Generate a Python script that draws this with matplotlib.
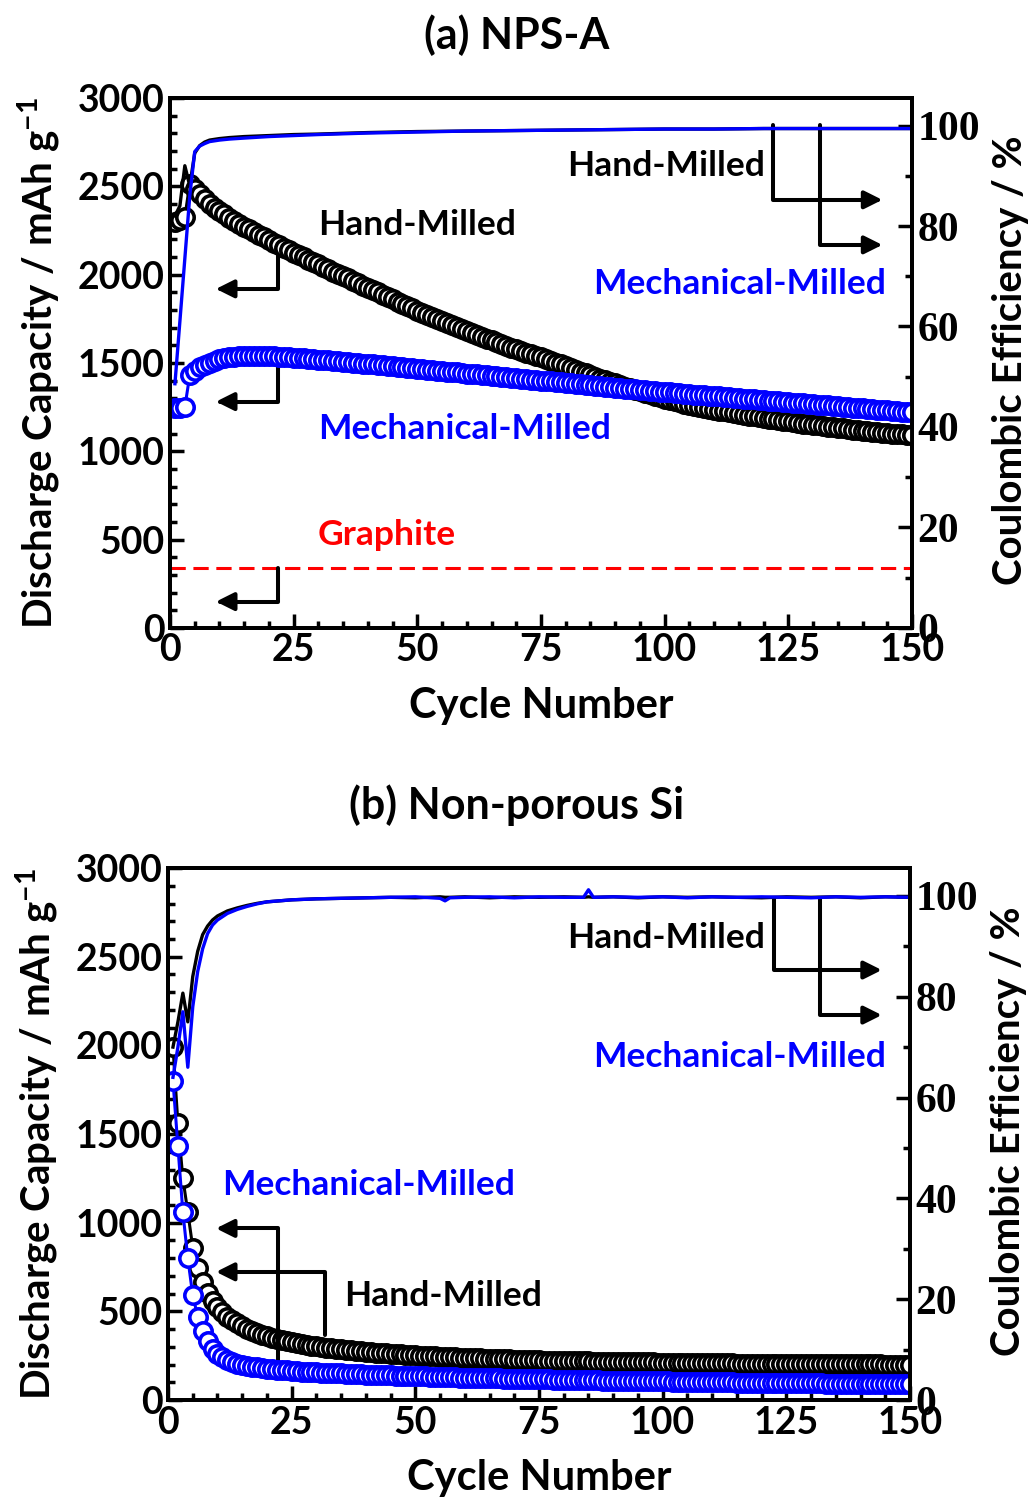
import matplotlib
matplotlib.use("Agg")
import matplotlib.pyplot as plt
from matplotlib.ticker import MultipleLocator

plt.rcParams['font.family'] = ['Lato', 'DejaVu Sans']
plt.rcParams['font.weight'] = 'bold'
plt.rcParams['mathtext.fontset'] = 'custom'
plt.rcParams['mathtext.rm'] = 'Lato:bold'
plt.rcParams['mathtext.default'] = 'rm'

cycles = list(range(1, 151))

# (a) NPS-A, discharge capacity (mAh/g)
npsa_hand = [2300, 2310, 2325, 2515, 2485, 2455, 2425, 2400, 2378, 2358,
             2340, 2322, 2305, 2288, 2272, 2256, 2240, 2225, 2210, 2195,
             2180, 2166, 2152, 2138, 2124, 2110, 2097, 2084, 2070, 2057,
             2044, 2030, 2017, 2004, 1991, 1978, 1964, 1951, 1938, 1925,
             1912, 1899, 1886, 1873, 1860, 1847, 1834, 1821, 1808, 1795,
             1783, 1771, 1759, 1747, 1735, 1724, 1713, 1702, 1691, 1680,
             1669, 1658, 1647, 1637, 1627, 1617, 1607, 1597, 1587, 1577,
             1567, 1558, 1549, 1540, 1531, 1521, 1511, 1501, 1491, 1481,
             1471, 1461, 1451, 1441, 1431, 1421, 1411, 1402, 1393, 1384,
             1375, 1366, 1357, 1348, 1339, 1330, 1322, 1314, 1306, 1298,
             1291, 1284, 1277, 1270, 1264, 1258, 1252, 1246, 1240, 1235,
             1230, 1225, 1220, 1215, 1210, 1205, 1201, 1197, 1193, 1189,
             1185, 1181, 1177, 1173, 1169, 1165, 1161, 1157, 1153, 1150,
             1146, 1143, 1139, 1136, 1132, 1129, 1126, 1123, 1120, 1117,
             1114, 1111, 1108, 1105, 1103, 1100, 1098, 1095, 1093, 1090]
npsa_mech = [1245, 1245, 1250, 1430, 1455, 1475, 1490, 1502, 1512, 1520,
             1526, 1531, 1535, 1538, 1540, 1541, 1541, 1541, 1540, 1539,
             1538, 1536, 1534, 1532, 1530, 1528, 1526, 1524, 1521, 1519,
             1516, 1514, 1511, 1509, 1506, 1504, 1501, 1499, 1496, 1494,
             1491, 1488, 1486, 1483, 1480, 1478, 1475, 1472, 1470, 1467,
             1464, 1462, 1459, 1456, 1454, 1451, 1448, 1446, 1443, 1440,
             1438, 1435, 1432, 1430, 1427, 1424, 1422, 1419, 1416, 1414,
             1411, 1408, 1406, 1403, 1400, 1398, 1395, 1392, 1390, 1387,
             1384, 1382, 1379, 1376, 1374, 1371, 1368, 1366, 1363, 1360,
             1358, 1355, 1352, 1350, 1347, 1345, 1342, 1340, 1338, 1335,
             1333, 1331, 1328, 1326, 1324, 1321, 1319, 1317, 1315, 1312,
             1310, 1308, 1305, 1303, 1301, 1298, 1296, 1294, 1291, 1289,
             1287, 1284, 1282, 1280, 1277, 1275, 1273, 1271, 1268, 1266,
             1264, 1261, 1259, 1257, 1254, 1252, 1250, 1247, 1245, 1243,
             1240, 1238, 1236, 1233, 1231, 1229, 1226, 1224, 1222, 1220]
graphite_cap = 340

# (a) coulombic efficiency (%)
ce_a_cyc = [1, 2, 3, 4, 5, 6, 7, 8, 10, 12, 15, 20, 25, 30, 40, 50, 60,
            70, 80, 90, 100, 110, 120, 130, 140, 150]
ce_a_hand = [82, 84, 92, 88, 94.5, 96.0, 96.7, 97.1, 97.4, 97.6, 97.8, 98.0,
             98.2, 98.3, 98.6, 98.8, 98.9, 99.0, 99.1, 99.2, 99.3, 99.3,
             99.4, 99.4, 99.4, 99.4]
ce_a_mech = [48.6, 61, 73.5, 86, 94.8, 95.9, 96.4, 96.8, 97.1, 97.3, 97.5,
             97.8, 98.0, 98.2, 98.5, 98.7, 98.9, 99.0, 99.1, 99.2, 99.3,
             99.3, 99.4, 99.4, 99.4, 99.4]

# (b) Non-porous Si, discharge capacity (mAh/g)
si_hand = [1990, 1560, 1250, 1060, 860, 745, 665, 605, 560, 525,
           495, 470, 450, 432, 416, 402, 390, 379, 369, 360,
           352, 345, 338, 332, 326, 321, 316, 311, 307, 303,
           299, 295, 292, 289, 286, 283, 280, 277, 275, 272,
           270, 268, 266, 264, 262, 260, 258, 256, 254, 252,
           251, 249, 248, 246, 245, 244, 242, 241, 240, 239,
           237, 236, 235, 234, 233, 232, 231, 230, 229, 228,
           227, 226, 226, 225, 224, 223, 223, 222, 221, 221,
           220, 219, 219, 218, 218, 217, 217, 216, 216, 215,
           215, 214, 214, 213, 213, 212, 212, 212, 211, 211,
           211, 210, 210, 210, 209, 209, 209, 208, 208, 208,
           207, 207, 207, 207, 206, 206, 206, 206, 205, 205,
           205, 205, 205, 204, 204, 204, 204, 204, 203, 203,
           203, 203, 203, 202, 202, 202, 202, 202, 202, 201,
           201, 201, 201, 201, 200, 200, 200, 200, 200, 200]
si_mech = [1800, 1430, 1060, 800, 590, 470, 390, 335, 290, 262,
           242, 227, 215, 206, 199, 193, 188, 184, 180, 177,
           174, 171, 169, 167, 165, 163, 161, 159, 158, 156,
           155, 153, 152, 151, 150, 148, 147, 146, 145, 144,
           143, 142, 141, 140, 139, 138, 137, 136, 135, 134,
           133, 133, 132, 131, 130, 129, 129, 128, 127, 126,
           126, 125, 124, 124, 123, 122, 122, 121, 120, 120,
           119, 119, 118, 117, 117, 116, 116, 115, 115, 114,
           114, 113, 113, 112, 112, 111, 111, 110, 110, 109,
           109, 108, 108, 108, 107, 107, 106, 106, 105, 105,
           105, 104, 104, 103, 103, 103, 102, 102, 101, 101,
           101, 100, 100, 100, 99, 99, 99, 98, 98, 98,
           97, 97, 97, 96, 96, 96, 95, 95, 95, 94,
           94, 94, 93, 93, 93, 92, 92, 92, 91, 91,
           91, 90, 90, 90, 89, 89, 89, 88, 88, 88]

# (b) coulombic efficiency (%)
ce_b_cyc = [1, 2, 3, 4, 5, 6, 7, 8, 9, 10, 12, 14, 16, 18, 20, 25, 30, 35,
            40, 45, 50, 55, 56, 57, 60, 65, 70, 75, 80, 84, 85, 86, 90, 95,
            100, 105, 110, 115, 120, 125, 130, 135, 140, 145, 150]
ce_b_hand = [70, 75, 80.7, 75, 84, 89, 92.3, 94, 95.2, 96, 97, 97.6, 98.1,
             98.5, 98.8, 99.2, 99.4, 99.5, 99.6, 99.7, 99.6, 99.8, 99.7,
             99.7, 99.8, 99.6, 99.8, 99.7, 99.8, 99.7, 99.8, 99.7, 99.8,
             99.6, 99.8, 99.7, 99.8, 99.7, 99.6, 99.8, 99.7, 99.8, 99.6,
             99.8, 99.7]
ce_b_mech = [64, 70, 77, 66, 78, 85, 89.5, 92.5, 94.2, 95.2, 96.5, 97.3,
             97.9, 98.4, 98.8, 99.2, 99.4, 99.5, 99.6, 99.7, 99.8, 99.5,
             99.0, 99.6, 99.7, 99.8, 99.6, 99.8, 99.7, 99.7, 101.2, 99.7,
             99.8, 99.7, 99.8, 99.6, 99.8, 99.7, 99.8, 99.7, 99.6, 99.8,
             99.7, 99.8, 99.7]

BLUE = '#0000ff'
RED = '#ff0000'
SANS = ['Lato', 'DejaVu Sans']
SERIF = ['Liberation Serif', 'DejaVu Serif']
NOTE = 25.5


def style_axes(ax, ax2):
    for a in (ax, ax2):
        for s in a.spines.values():
            s.set_linewidth(2.8)
    ax.set_xlim(0, 150)
    ax.set_ylim(0, 3000)
    ax2.set_ylim(0, 105.5)
    ax.xaxis.set_major_locator(MultipleLocator(25))
    ax.xaxis.set_minor_locator(MultipleLocator(5))
    ax.yaxis.set_major_locator(MultipleLocator(500))
    ax.yaxis.set_minor_locator(MultipleLocator(100))
    ax2.yaxis.set_major_locator(MultipleLocator(20))
    ax2.yaxis.set_minor_locator(MultipleLocator(10))
    ax.tick_params(which='both', direction='in', width=2.5, top=False,
                   right=False, labelsize=27, pad=4)
    ax.tick_params(which='major', length=10)
    ax.tick_params(which='minor', length=5)
    ax2.tick_params(which='both', direction='in', width=2.5, labelsize=30, pad=4)
    ax2.tick_params(which='major', length=10)
    ax2.tick_params(which='minor', length=5)
    for lab in ax.get_xticklabels() + ax.get_yticklabels():
        lab.set_fontweight('bold')
        lab.set_family(SANS)
    for lab in ax2.get_yticklabels():
        lab.set_fontweight('bold')
        lab.set_family(SERIF)
    ax.text(-0.176, 0.5, 'Discharge Capacity / mAh g$^{-1}$', transform=ax.transAxes,
            rotation=90, ha='center', va='center', fontsize=29, fontweight='bold')
    ax2.text(1.133, 0.505, 'Coulombic Efficiency / %', transform=ax2.transAxes,
             rotation=90, ha='center', va='center', fontsize=29, fontweight='bold')
    ax.text(0.5, -0.147, 'Cycle Number', transform=ax.transAxes,
            ha='center', va='center', fontsize=30, fontweight='bold')


def bracket(ax, start, tip, color='k'):
    ax.annotate('', xy=tip, xytext=start,
                arrowprops=dict(arrowstyle='-|>', color=color, lw=2.9,
                                mutation_scale=27, shrinkA=0, shrinkB=0,
                                connectionstyle='angle,angleA=90,angleB=0,rad=0'))


def bracket_right(ax, start, tip, color='k'):
    ax.annotate('', xy=tip, xytext=start,
                arrowprops=dict(arrowstyle='-|>', color=color, lw=2.9,
                                mutation_scale=27, shrinkA=0, shrinkB=0,
                                connectionstyle='angle,angleA=-90,angleB=180,rad=0'))


fig = plt.figure(figsize=(10.34, 14.99), dpi=100)

mk = dict(marker='o', markersize=12.5, markeredgewidth=2.6, markerfacecolor='white', lw=2.2)

# ---------- (a) ----------
axa = fig.add_axes([0.1644, 0.5811, 0.7176, 0.3536])
axa2 = axa.twinx()
axa.plot(cycles, npsa_hand, color='k', markeredgecolor='k', zorder=3, **mk)
axa.plot(cycles, npsa_mech, color=BLUE, markeredgecolor=BLUE, zorder=4, **mk)
axa.axhline(graphite_cap, color=RED, ls=(0, (5, 2.5)), lw=2.2)
axa2.plot(ce_a_cyc, ce_a_hand, color='k', lw=2.4)
axa2.plot(ce_a_cyc, ce_a_mech, color=BLUE, lw=2.4)
style_axes(axa, axa2)
fig.text(0.5, 1 - 35 / 1499, '(a) NPS-A', ha='center', va='center',
         fontsize=31, fontweight='bold')

axa.text(29.9, 2281, 'Hand-Milled', ha='left', va='center', fontsize=NOTE, fontweight='bold')
axa.text(29.9, 1126, 'Mechanical-Milled', ha='left', va='center', fontsize=NOTE,
         fontweight='bold', color=BLUE)
axa.text(29.9, 526, 'Graphite', ha='left', va='center', fontsize=NOTE,
         fontweight='bold', color=RED)
axa.text(120.3, 2615, 'Hand-Milled', ha='right', va='center', fontsize=NOTE, fontweight='bold')
axa.text(144.7, 1947, 'Mechanical-Milled', ha='right', va='center', fontsize=NOTE,
         fontweight='bold', color=BLUE)
bracket(axa, (21.8, 2111), (9.3, 1919))
bracket(axa, (21.8, 1479), (9.3, 1281))
bracket(axa, (21.8, 340), (9.3, 149))
bracket_right(axa, (122.0, 2847), (144.0, 2423))
bracket_right(axa, (131.4, 2847), (144.0, 2168))

# ---------- (b) ----------
axb = fig.add_axes([0.1625, 0.0660, 0.7176, 0.3549])
axb2 = axb.twinx()
axb.plot(cycles, si_hand, color='k', markeredgecolor='k', zorder=3, **mk)
axb.plot(cycles, si_mech, color=BLUE, markeredgecolor=BLUE, zorder=4, **mk)
axb2.plot(ce_b_cyc, ce_b_hand, color='k', lw=2.4)
axb2.plot(ce_b_cyc, ce_b_mech, color=BLUE, lw=2.4)
style_axes(axb, axb2)
fig.text(0.5, 1 - 805 / 1499, '(b) Non-porous Si', ha='center', va='center',
         fontsize=31, fontweight='bold')

axb.text(120.7, 2605, 'Hand-Milled', ha='right', va='center', fontsize=NOTE, fontweight='bold')
axb.text(145.1, 1934, 'Mechanical-Milled', ha='right', va='center', fontsize=NOTE,
         fontweight='bold', color=BLUE)
axb.text(10.9, 1212, 'Mechanical-Milled', ha='left', va='center', fontsize=NOTE,
         fontweight='bold', color=BLUE)
axb.text(35.6, 586, 'Hand-Milled', ha='left', va='center', fontsize=NOTE, fontweight='bold')
bracket(axb, (22.3, 216), (9.7, 968))
bracket(axb, (31.7, 367), (9.7, 723))
bracket_right(axb, (122.5, 2831), (144.3, 2425))
bracket_right(axb, (131.8, 2831), (144.3, 2171))

fig.savefig('out.png', dpi=100)
